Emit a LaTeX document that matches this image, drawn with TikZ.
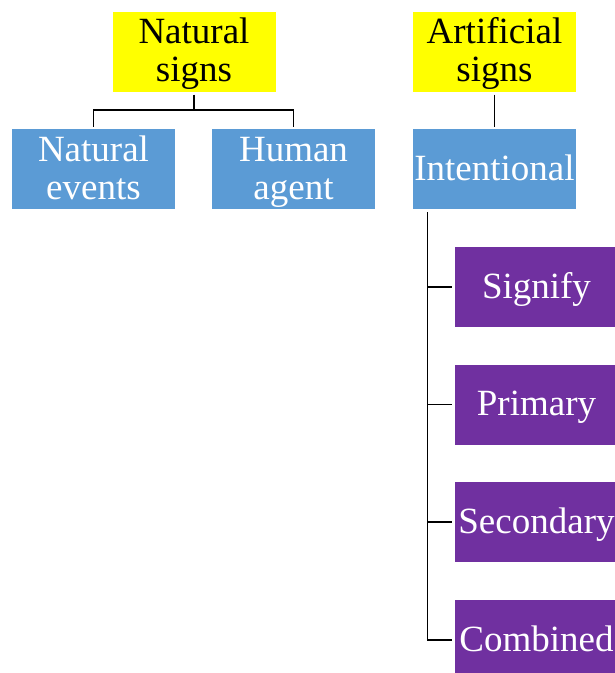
\documentclass[tikz,border=0pt]{standalone}
\usepackage{fontspec}
\setmainfont{Liberation Serif}
\newfontfamily\tnr{Liberation Serif}
\definecolor{ylw}{HTML}{FFFF00}
\definecolor{blu}{HTML}{5B9BD5}
\definecolor{pur}{HTML}{7030A0}
\newcommand{\mystrutx}{\rule[-8pt]{0pt}{38pt}}
\begin{document}
\begin{tikzpicture}[x=1pt,y=-1pt,
  box/.style={minimum width=163pt,minimum height=80pt,inner sep=0pt,align=center,
    font=\tnr\fontsize{37}{38}\selectfont},
  topbox/.style={box,fill=ylw,text=black},
  midbox/.style={box,fill=blu,text=white},
  leafbox/.style={box,fill=pur,text=white},
  conn/.style={draw=black,line width=1.2pt}]
\useasboundingbox (0,0) rectangle (615,673);
\clip (0,0) rectangle (615,673);
\node[topbox] (ns) at (194,51.5) {\mystrutx Natural\\\mystrutx signs};
\node[topbox] (as) at (494.5,51.5) {\mystrutx Artificial\\\mystrutx signs};
\node[midbox] (ne) at (93.5,169) {\mystrutx Natural\\\mystrutx events};
\node[midbox] (ha) at (293.5,169) {\mystrutx Human\\\mystrutx agent};
\node[midbox] (in) at (494.5,169) {\mystrutx Intentional};
\node[leafbox] (c1) at (536.5,287) {\mystrutx Signify};
\node[leafbox] (c2) at (536.5,404.5) {\mystrutx Primary};
\node[leafbox] (c3) at (536.5,522) {\mystrutx Secondary};
\node[leafbox] (c4) at (536.5,640) {\mystrutx Combined};
\coordinate (bus) at (194,110);
\draw[conn,shorten <=3pt] (ns.south) -- (bus);
\draw[conn,shorten <=2pt,shorten >=2pt] (ne.north) |- (bus) -| (ha.north);
\draw[conn,shorten <=3pt,shorten >=2pt] (as.south) -- (in.north);
\coordinate (trunk) at ([xshift=15pt,yshift=-3pt]in.south west);
\draw[conn,shorten >=3pt] (trunk) |- (c4.west);
\foreach \c in {c1,c2,c3}{
  \draw[conn,shorten <=3pt] (\c.west) -- (\c.west -| trunk);
}
\end{tikzpicture}
\end{document}
